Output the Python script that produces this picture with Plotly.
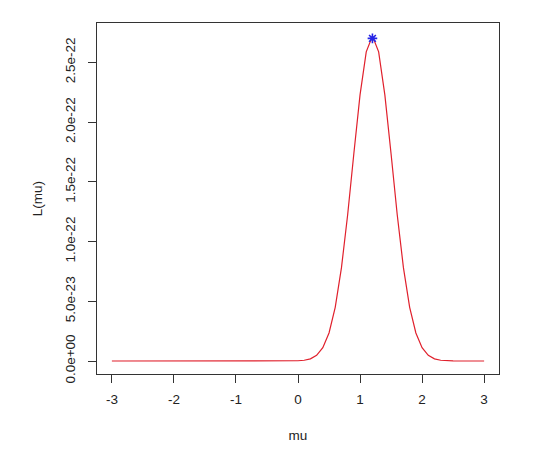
import plotly.graph_objects as go

# grid of mu values (-3 to 3 by 0.1)
mu = [round(-3 + 0.1 * i, 1) for i in range(61)]

# likelihood values L(mu), in units of 1e-22
L_scaled = [0.0] * 28 + [
    0.00015, 0.0006,            # -0.2, -0.1
    0.0020, 0.0064, 0.0183, 0.0474, 0.1109, 0.2347, 0.4496, 0.7793, 1.2222, 1.7344,  # 0.0 .. 0.9
    2.2270, 2.5873, 2.7200, 2.5873, 2.2270, 1.7344, 1.2222, 0.7793, 0.4496, 0.2347,  # 1.0 .. 1.9
    0.1109, 0.0474, 0.0183, 0.0064, 0.0020, 0.0006, 0.00015,                          # 2.0 .. 2.6
] + [0.0] * 4
L = [v * 1e-22 for v in L_scaled]

# maximum-likelihood point
mu_hat = [1.2]
L_hat = [2.70e-22]

x_ticks = [-3, -2, -1, 0, 1, 2, 3]
y_tickvals = [0, 5e-23, 1e-22, 1.5e-22, 2e-22, 2.5e-22]
y_ticktext = ["0.0e+00", "5.0e-23", "1.0e-22", "1.5e-22", "2.0e-22", "2.5e-22"]

ymax = max(L)
xr = [-3 - 0.04 * 6, 3 + 0.04 * 6]
yr = [-0.04 * ymax, ymax * 1.04]

font = dict(family="Liberation Sans, Arial, sans-serif", size=13.5, color="#222222")

fig = go.Figure()
fig.add_trace(go.Scatter(x=mu, y=L, mode="lines",
                         line=dict(color="#e0202c", width=1.2),
                         showlegend=False, hoverinfo="skip"))
fig.add_trace(go.Scatter(x=mu_hat, y=L_hat, mode="markers",
                         marker=dict(symbol="asterisk-open", size=8, color="#2424e6",
                                     line=dict(color="#2424e6", width=1.6)),
                         showlegend=False))

fig.update_layout(
    width=560, height=453,
    margin=dict(l=97, r=61, t=23, b=79),
    paper_bgcolor="white", plot_bgcolor="white",
    font=font,
    xaxis=dict(range=xr, tickvals=x_ticks, ticktext=[str(t) for t in x_ticks],
               showgrid=False, zeroline=False, showline=True, mirror=True,
               linecolor="#333333", linewidth=1,
               ticks="outside", ticklen=8, tickcolor="#333333",
               ticklabelstandoff=5,
               title=dict(text="mu", standoff=24, font=font)),
    yaxis=dict(range=yr, tickvals=y_tickvals, ticktext=y_ticktext,
               tickangle=-90,
               showgrid=False, zeroline=False, showline=True, mirror=True,
               linecolor="#333333", linewidth=1,
               ticks="outside", ticklen=8, tickcolor="#333333",
               ticklabelstandoff=8,
               title=dict(text="L(mu)", standoff=16, font=font)),
)

fig.write_html("out.html")
